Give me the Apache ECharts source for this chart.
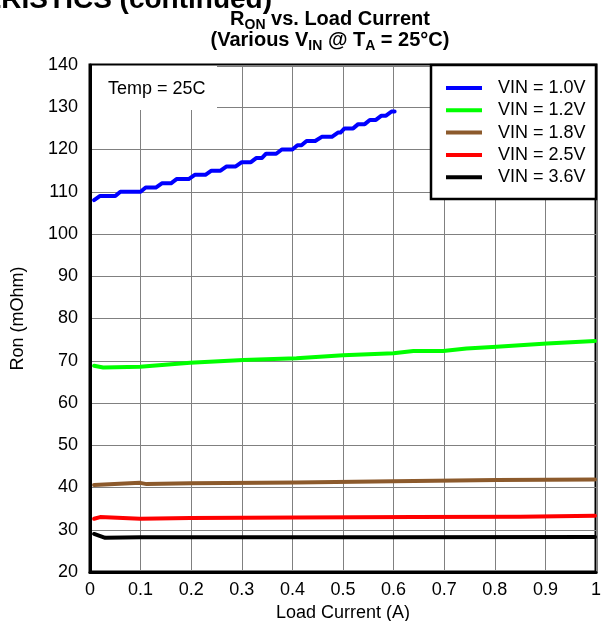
<!DOCTYPE html>
<html>
<head>
<meta charset="utf-8">
<script src="https://cdn.jsdelivr.net/npm/echarts@6/dist/echarts.min.js"></script>
<style>html,body{margin:0;padding:0;background:#fff;}#chart{width:603px;height:621px;}</style>
</head>
<body>
<div id="chart"></div>
<script>
var xTicks = ['0','0.1','0.2','0.3','0.4','0.5','0.6','0.7','0.8','0.9','1'];
var seriesNames = ['VIN = 1.0V','VIN = 1.2V','VIN = 1.8V','VIN = 2.5V','VIN = 3.6V'];
var seriesColors = ['#0000ff','#00ff00','#8c5a2c','#ff0000','#000000'];

var vin10 = [[0.008,108],[0.02,109],[0.05,109],[0.06,110],[0.10,110],[0.11,111],[0.13,111],[0.142,112],[0.16,112],[0.171,113],[0.195,113],[0.207,114],[0.228,114],[0.24,115],[0.258,115],[0.27,116],[0.288,116],[0.30,117],[0.318,117],[0.329,118],[0.34,118],[0.348,119],[0.368,119],[0.379,120],[0.40,120],[0.41,121],[0.418,121],[0.428,122],[0.445,122],[0.458,123],[0.478,123],[0.49,124],[0.495,124],[0.503,125],[0.52,125],[0.53,126],[0.543,126],[0.553,127],[0.565,127],[0.576,128],[0.585,128],[0.596,129],[0.602,129]];
var vin12 = [[0.008,68.8],[0.026,68.4],[0.099,68.6],[0.198,69.5],[0.303,70.2],[0.408,70.6],[0.5,71.3],[0.6,71.8],[0.639,72.3],[0.698,72.3],[0.744,72.9],[0.804,73.3],[0.903,74.1],[0.998,74.7]];
var vin18 = [[0.008,40.6],[0.099,41.1],[0.112,40.8],[0.198,41.0],[0.408,41.2],[0.6,41.5],[0.804,41.8],[0.998,41.9]];
var vin25 = [[0.008,32.6],[0.02,33.0],[0.099,32.6],[0.198,32.8],[0.408,32.9],[0.64,33.0],[0.85,33.1],[0.998,33.3]];
var vin36 = [[0.008,29.0],[0.03,28.1],[0.1,28.2],[0.33,28.2],[0.6,28.2],[0.998,28.3]];
var allData = [vin10, vin12, vin18, vin25, vin36];

var FONT = '"Liberation Sans", Arial, sans-serif';
var chart = echarts.init(document.getElementById('chart'), null, {renderer:'canvas'});

var series = allData.map(function(d, i){
  return {
    name: seriesNames[i], type: 'line', data: d, symbol: 'none', smooth: false,
    lineStyle: {width: 4, color: seriesColors[i], cap: 'round', join: 'round'},
    itemStyle: {color: seriesColors[i]}, z: 2
  };
});

chart.setOption({
  animation: false,
  backgroundColor: '#fff',
  grid: {left: 90, right: 7, top: 65, bottom: 49, show: true, borderColor: '#000', borderWidth: 3, backgroundColor: 'transparent', containLabel: false, outerBoundsMode: 'none'},
  xAxis: {
    type: 'value', min: 0, max: 1, interval: 0.1,
    name: 'Load Current (A)', nameLocation: 'middle', nameGap: 32,
    nameTextStyle: {fontFamily: FONT, fontSize: 18, color: '#000'},
    axisLine: {show: true, lineStyle: {color: '#000', width: 3}},
    axisTick: {show: false},
    axisLabel: {fontFamily: FONT, fontSize: 18, color: '#000', margin: 9,
      formatter: function(v){ return xTicks[Math.round(v*10)]; }},
    splitLine: {show: true, lineStyle: {color: '#808080', width: 1}}
  },
  yAxis: {
    type: 'value', min: 20, max: 140, interval: 10,
    name: 'Ron (mOhm)', nameLocation: 'middle', nameGap: 63,
    nameTextStyle: {fontFamily: FONT, fontSize: 18, color: '#000'},
    axisLine: {show: true, lineStyle: {color: '#000', width: 3}},
    axisTick: {show: false},
    axisLabel: {fontFamily: FONT, fontSize: 18, color: '#000', margin: 12},
    splitLine: {show: true, lineStyle: {color: '#808080', width: 1}}
  },
  legend: {
    left: 446, top: 78, orient: 'vertical', icon: 'rect',
    itemWidth: 36, itemHeight: 4, itemGap: 2.3,
    padding: 0,
    textStyle: {fontFamily: FONT, fontSize: 18, color: '#000', lineHeight: 20, padding: [0,0,0,11]},
    data: seriesNames, z: 5
  },
  graphic: [
    {type: 'rect', shape: {x: 431, y: 65, width: 165, height: 134}, style: {fill: '#fff', stroke: '#000', lineWidth: 2.5}, z: 3},
    {type: 'rect', shape: {x: 92, y: 66, width: 125, height: 44}, style: {fill: '#fff'}, z: 3},
    {type: 'text', x: 108, y: 89, style: {text: 'Temp = 25C', font: '18px ' + FONT, fill: '#000', verticalAlign: 'middle'}, z: 4},
    {type: 'text', x: 272, y: 14, style: {text: 'CHARACTERISTICS (continued)', font: 'bold 28px ' + FONT, fill: '#000', align: 'right', verticalAlign: 'bottom'}, z: 4},
    {type: 'text', x: 330, y: 9, z: 4, style: {
      text: '{b|R}{s|ON}{b| vs. Load Current}\n{b|(Various V}{s|IN}{b| @ T}{s|A}{b| = 25°C)}',
      align: 'center', verticalAlign: 'top', fill: '#000',
      rich: {
        b: {fontFamily: FONT, fontWeight: 'bold', fontSize: 20, lineHeight: 21, verticalAlign: 'top', fill: '#000'},
        s: {fontFamily: FONT, fontWeight: 'bold', fontSize: 14, lineHeight: 12, padding: [9,0,0,0], verticalAlign: 'top', fill: '#000'}
      }
    }}
  ],
  series: series
});
</script>
</body>
</html>
